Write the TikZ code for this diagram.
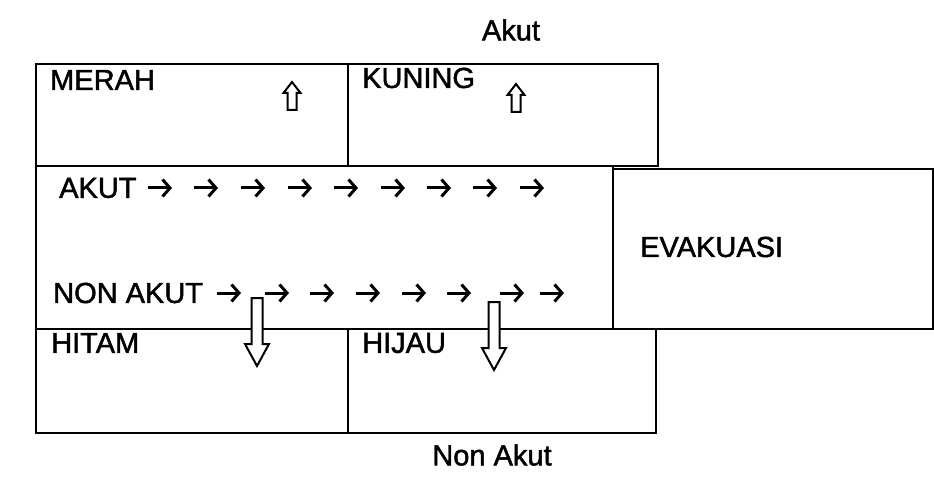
\documentclass[tikz,border=0pt]{standalone}
\usepackage{fontspec}
\newfontfamily\lblfont[FakeBold=1.6]{Liberation Sans}
\usetikzlibrary{arrows.meta}
\tikzset{
  box/.style={draw, line width=1.8pt, anchor=north west, inner sep=0pt},
  lbl/.style={inner sep=0pt, font=\lblfont\fontsize{29}{34}\selectfont},
  hollow/.style={draw, fill=white, line width=2pt, line join=miter},
  rarr/.style={line width=3pt, -{Straight Barb[length=7.5pt,width=17pt]}},
}
\newcommand\hollowup[2]{%
  \draw[hollow] (#1-4.5,#2+28) -- (#1-4.5,#2+11) -- (#1-8.5,#2+11) -- (#1,#2) -- (#1+8.5,#2+11) -- (#1+4.5,#2+11) -- (#1+4.5,#2+28) -- cycle;}
\newcommand\hollowdown[3]{%
  \draw[hollow] (#1-5.5,#2) -- (#1-5.5,#3-22) -- (#1-12,#3-22) -- (#1,#3) -- (#1+12,#3-22) -- (#1+5.5,#3-22) -- (#1+5.5,#2) -- cycle;}
\begin{document}
\begin{tikzpicture}[x=1pt,y=-1pt]
\useasboundingbox[fill=white] (0,0) rectangle (934,481);
% boxes
\node[box, minimum width=312pt, minimum height=102pt] (merah) at (35,63) {};
\node[box, minimum width=310pt, minimum height=102pt] (kuning) at (347,63) {};
\node[box, minimum width=577pt, minimum height=163pt] (mid) at (35,165) {};
\node[box, minimum width=320pt, minimum height=160pt] (evak) at (612,168) {};
\node[box, minimum width=312pt, minimum height=104pt] (hitam) at (35,328) {};
\node[box, minimum width=308pt, minimum height=104pt] (hijau) at (347,328) {};
% labels
\node[lbl] (akuttop) at (511,30) {Akut};
\node[lbl, anchor=west] (tmerah) at (50,80) {MERAH};
\node[lbl, anchor=west] (tkuning) at (362,78) {KUNING};
\node[lbl, anchor=west] (takut) at (59,188) {AKUT};
\node[lbl, anchor=west] (tnonakut) at (53,293) {NON AKUT};
\node[lbl, anchor=west] (tevak) at (640,247) {EVAKUASI};
\node[lbl, anchor=west] (thitam) at (51,343) {HITAM};
\node[lbl, anchor=west] (thijau) at (362,343) {HIJAU};
\node[lbl] (nonakut) at (492,455) {Non Akut};
% small arrows
\foreach \x in {160,206,253,300,346,393,439,485,532}
  \draw[rarr] (\x-12,188) -- (\x+12,188);
\foreach \x in {229,277,322,368,414,459,512,552}
  \draw[rarr] (\x-12,293) -- (\x+12,293);
% hollow arrows
\hollowup{292}{82}
\hollowup{516}{84}
\hollowdown{257}{298}{366}
\hollowdown{494}{302}{370}
\end{tikzpicture}
\end{document}
